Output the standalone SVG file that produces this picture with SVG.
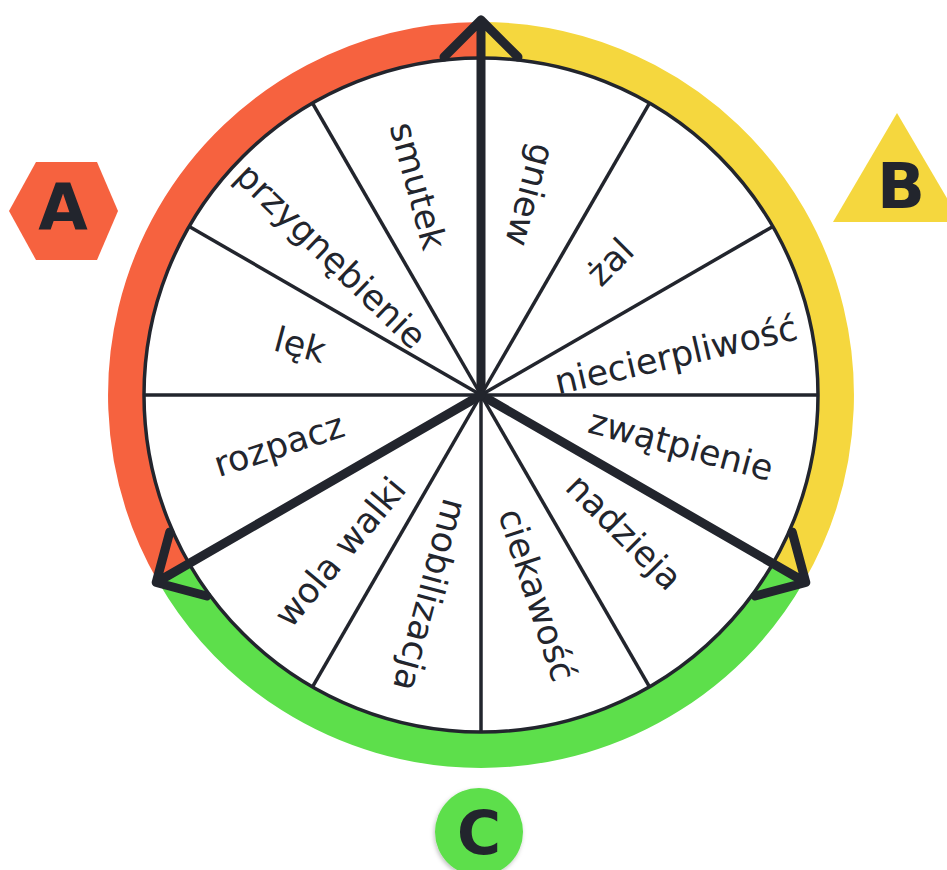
<svg xmlns="http://www.w3.org/2000/svg" width="947" height="870" viewBox="0 0 947 870">
<defs>
<style>
.ring{fill:none;stroke-width:36;stroke-linecap:butt;}
.spoke{stroke:#22252d;stroke-width:3.5;}
.arrow{fill:none;stroke:#22252d;stroke-width:9;stroke-linecap:round;stroke-linejoin:round;}
.lbl{font-family:"DejaVu Sans",sans-serif;font-size:35px;fill:#22252d;text-anchor:middle;dominant-baseline:central;}
.badge{font-family:"DejaVu Sans",sans-serif;font-weight:bold;fill:#22252d;text-anchor:middle;}
</style>
<filter id="sh" x="-20%" y="-20%" width="140%" height="140%">
<feDropShadow dx="-1" dy="2" stdDeviation="2" flood-color="#000" flood-opacity="0.25"/>
</filter>
</defs>
<rect width="947" height="870" fill="#ffffff"/>
<g id="ring">
<path class="ring" stroke="#f6623f" d="M173.6 572.5 A355 355 0 0 1 481 40"/>
<path class="ring" stroke="#f5d73e" d="M481 40 A355 355 0 0 1 788.4 572.5"/>
<path class="ring" stroke="#5ddf4b" d="M788.4 572.5 A355 355 0 0 1 173.6 572.5"/>
</g>
<g id="wheel">
<circle cx="481" cy="395" r="337" fill="#ffffff" stroke="#22252d" stroke-width="3.5"/>
</g>
<g id="connectors">
<line class="spoke" x1="481" y1="395" x2="818" y2="395"/>
<line class="spoke" x1="481" y1="395" x2="649.5" y2="686.9"/>
<line class="spoke" x1="481" y1="395" x2="481" y2="732"/>
<line class="spoke" x1="481" y1="395" x2="312.5" y2="686.9"/>
<line class="spoke" x1="481" y1="395" x2="144" y2="395"/>
<line class="spoke" x1="481" y1="395" x2="189.2" y2="226.5"/>
<line class="spoke" x1="481" y1="395" x2="312.5" y2="103.1"/>
<line class="spoke" x1="481" y1="395" x2="649.5" y2="103.1"/>
<line class="spoke" x1="481" y1="395" x2="772.9" y2="226.5"/>
<path class="arrow" d="M481 395 L481 20 M444 57 L481 20 L518 57"/>
<path class="arrow" d="M481 395 L805.8 582.5 M755.2 596 L805.8 582.5 L792.2 532"/>
<path class="arrow" d="M481 395 L156.2 582.5 M169.8 532 L156.2 582.5 L206.8 596"/>
</g>
<g id="labels">
<text class="lbl" transform="translate(530 195) rotate(105)">gniew</text>
<text class="lbl" transform="translate(418 186) rotate(75)">smutek</text>
<text class="lbl" transform="translate(610 262) rotate(-45)">żal</text>
<text class="lbl" transform="translate(676 355) rotate(-13)">niecierpliwość</text>
<text class="lbl" transform="translate(681 445) rotate(15)">zwątpienie</text>
<text class="lbl" transform="translate(624 532) rotate(45)">nadzieja</text>
<text class="lbl" transform="translate(537 595) rotate(72)">ciekawość</text>
<text class="lbl" transform="translate(430 595) rotate(105)">mobilizacja</text>
<text class="lbl" transform="translate(340 552) rotate(-50)">wola walki</text>
<text class="lbl" transform="translate(279 445) rotate(-18)">rozpacz</text>
<text class="lbl" transform="translate(300 345) rotate(15)">lęk</text>
<text class="lbl" transform="translate(331 256) rotate(44)">przygnębienie</text>
</g>
<g id="badge-a">
<polygon points="9,211 36,162 97,162 118,211 97,260 36,260" fill="#f6623f"/>
<text class="badge" x="63" y="230" font-size="64">A</text>
</g>
<g id="badge-b">
<polygon points="897,113 961,222 833,222" fill="#f5d73e"/>
<text class="badge" x="901" y="208" font-size="63">B</text>
</g>
<g id="badge-c">
<circle cx="479" cy="832" r="44" fill="#5ddf4b" filter="url(#sh)"/>
<text class="badge" x="479" y="854" font-size="60">C</text>
</g>
</svg>
